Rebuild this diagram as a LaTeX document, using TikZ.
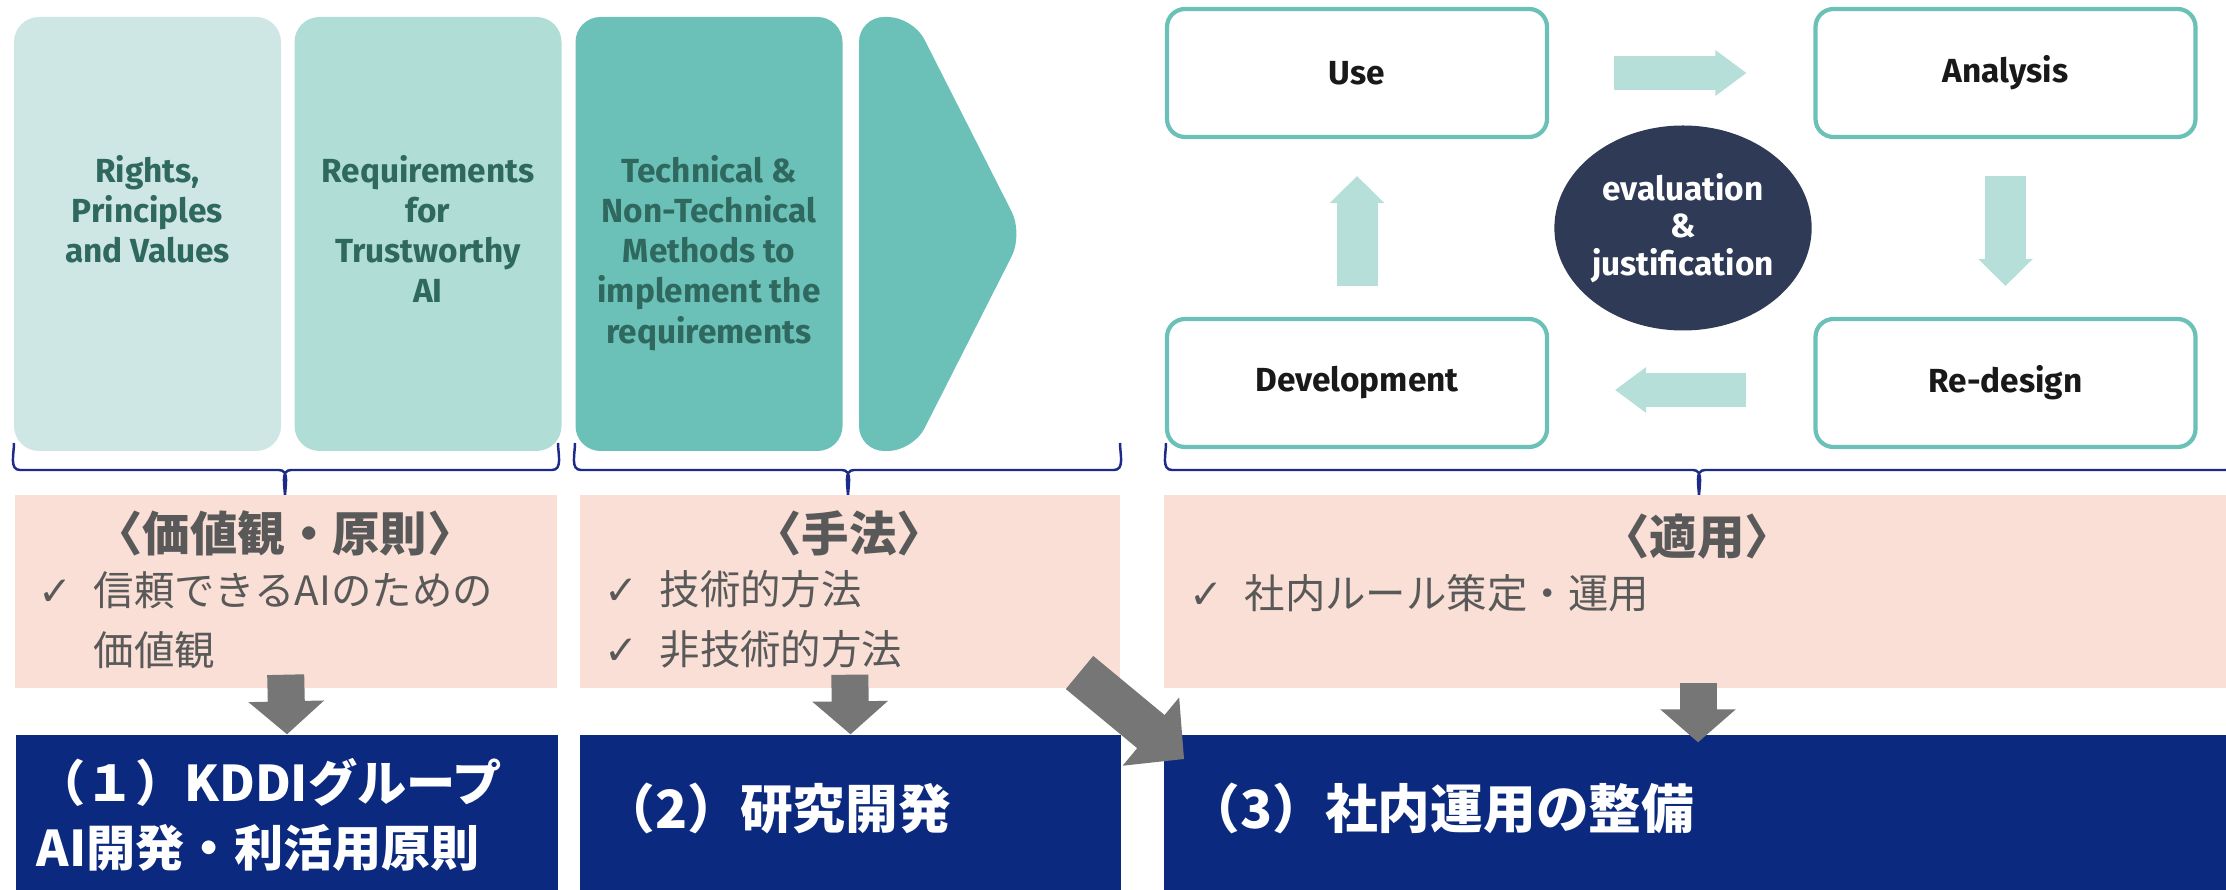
\documentclass[tikz,border=0pt]{standalone}
\usepackage{fontspec}
\setmainfont{Fira Sans}
\newfontfamily\jpfont{Noto Sans CJK JP}
\newfontfamily\checkfont{DejaVu Sans}
\usetikzlibrary{arrows.meta,shapes.geometric}

\definecolor{tealA}{RGB}{207,231,228}
\definecolor{tealB}{RGB}{176,221,214}
\definecolor{tealC}{RGB}{107,193,183}
\definecolor{tealtext}{RGB}{46,104,94}
\definecolor{tealarrow}{RGB}{182,223,217}
\definecolor{evalnavy}{RGB}{47,58,86}
\definecolor{pinkbg}{RGB}{249,223,213}
\definecolor{kddiblue}{RGB}{11,41,126}
\definecolor{arrowgray}{RGB}{118,118,118}
\definecolor{textgray}{RGB}{89,89,89}
\definecolor{braceblue}{RGB}{28,43,138}

\begin{document}
\begin{tikzpicture}[
    panel/.style={rounded corners=0.25cm, minimum width=2.67cm, minimum height=4.34cm, inner sep=0pt},
    paneltext/.style={anchor=north, align=center, inner sep=0pt, text=tealtext, font=\fontsize{9.5}{11.4}\selectfont\bfseries},
    stage/.style={draw=tealC, line width=1.2pt, rounded corners=0.18cm, fill=white, minimum width=3.8cm, minimum height=1.28cm, text=black!90, font=\fontsize{9.5}{11}\selectfont\bfseries},
    cyclearrow/.style={draw=tealarrow, line width=0.34cm, -{Triangle[length=0.31cm, width=0.45cm, line width=1pt]}},
    cyclearrowv/.style={draw=tealarrow, line width=0.41cm, -{Triangle[length=0.27cm, width=0.54cm, line width=1pt]}},
    bracket/.style={draw=braceblue, line width=0.7pt},
    pinkbox/.style={fill=pinkbg, minimum height=1.93cm, inner sep=0pt},
    heading/.style={inner sep=0pt, text=textgray, font=\jpfont\fontsize{13.5}{15}\selectfont\bfseries},
    checklist/.style={anchor=west, align=left, inner sep=0pt, text=textgray, font=\jpfont\fontsize{11.5}{17}\selectfont},
    bluebox/.style={fill=kddiblue, minimum height=1.6cm, inner sep=0pt},
    bluetext/.style={anchor=west, align=left, inner sep=0pt, text=white, font=\jpfont\fontsize{15}{18.5}\selectfont\bfseries},
    grayarrow/.style={draw=arrowgray, line width=0.37cm, -{Triangle[length=0.33cm, width=0.75cm, line width=1pt]}}
]
    \useasboundingbox (0,0) rectangle (22.26,-8.9);

    % Guidelines panels
    \node[panel, fill=tealA] (rights) at (1.475,-2.34) {};
    \node[panel, fill=tealB] (requirements) at (4.28,-2.34) {};
    \node[panel, fill=tealC] (methods) at (7.09,-2.34) {};
    \fill[tealC, rounded corners=0.25cm] (8.59,-4.51) -- (8.59,-0.17) -- (9.13,-0.17) -- (10.23,-2.34) -- (9.13,-4.51) -- cycle;

    \node[paneltext] (rightstext) at (1.475,-1.55) {Rights,\\Principles\\and Values};
    \node[paneltext] (reqtext) at (4.28,-1.55) {Requirements\\for\\Trustworthy\\AI};
    \node[paneltext] (methtext) at (7.09,-1.55) {Technical \&\\Non-Technical\\Methods to\\implement the\\requirements};

    % Life cycle
    \node[stage] (use) at (13.57,-0.73) {Use};
    \node[stage] (analysis) at (20.055,-0.73) {Analysis};
    \node[stage] (development) at (13.57,-3.83) {Development};
    \node[stage] (redesign) at (20.055,-3.83) {Re-design};
    \node[ellipse, fill=evalnavy, minimum width=2.57cm, minimum height=2.05cm, inner sep=0pt, align=center, text=white, font=\fontsize{9.5}{10.6}\selectfont\bfseries] (evaluation) at (16.83,-2.28) {evaluation\\\&\\justification};

    \draw[cyclearrow, shorten <=0.65cm, shorten >=0.67cm] (use) -- (analysis);
    \draw[cyclearrowv, shorten <=0.37cm, shorten >=0.31cm] (analysis) -- (redesign);
    \draw[cyclearrow, shorten <=0.67cm, shorten >=0.66cm] ([yshift=-0.07cm]redesign.west) -- ([yshift=-0.07cm]development.east);
    \draw[cyclearrowv, shorten <=0.31cm, shorten >=0.37cm] (development) -- (use);

    % Brackets
    \draw[bracket] (0.14,-4.43) to[out=-90,in=180] (0.20,-4.70) -- (2.79,-4.70) to[out=0,in=90] (2.85,-4.97) to[out=90,in=180] (2.91,-4.70) -- (5.52,-4.70) to[out=0,in=-90] (5.58,-4.43);
    \draw[bracket] (5.75,-4.43) to[out=-90,in=180] (5.81,-4.70) -- (8.42,-4.70) to[out=0,in=90] (8.48,-4.97) to[out=90,in=180] (8.54,-4.70) -- (11.14,-4.70) to[out=0,in=-90] (11.20,-4.43);
    \draw[bracket] (11.66,-4.43) to[out=-90,in=180] (11.72,-4.70) -- (16.93,-4.70) to[out=0,in=90] (16.99,-4.97) to[out=90,in=180] (17.05,-4.70) -- (22.26,-4.70) to[out=0,in=-90] (22.32,-4.43);

    % Summary boxes
    \node[pinkbox, minimum width=5.42cm] (pink1) at (2.86,-5.915) {};
    \node[pinkbox, minimum width=5.40cm] (pink2) at (8.50,-5.915) {};
    \node[pinkbox, minimum width=10.68cm] (pink3) at (16.98,-5.915) {};

    \node[heading] (values) at (2.85,-5.33) {〈価値観・原則〉};
    \node[heading] (methodsjp) at (8.49,-5.33) {〈手法〉};
    \node[heading] (apply) at (16.97,-5.37) {〈適用〉};

    \node[checklist] (valuelist) at (0.38,-6.20) {{\checkfont ✓}\hspace{6pt}信頼できるAIのための\\\hphantom{{\checkfont ✓}\hspace{6pt}}価値観};
    \node[checklist] (methodlist) at (6.04,-6.19) {{\checkfont ✓}\hspace{6pt}技術的方法\\{\checkfont ✓}\hspace{6pt}非技術的方法};
    \node[checklist] (applylist) at (11.89,-5.93) {{\checkfont ✓}\hspace{6pt}社内ルール策定・運用};

    % KDDI boxes
    \node[bluebox, minimum width=5.42cm] (dark1) at (2.87,-8.15) {};
    \node[bluebox, minimum width=5.41cm] (dark2) at (8.505,-8.15) {};
    \node[bluebox, minimum width=10.68cm] (dark3) at (16.98,-8.15) {};

    \node[bluetext, font=\jpfont\fontsize{14}{18.3}\selectfont\bfseries] (principles) at (0.36,-8.15) {（１）KDDIグループ\\AI開発・利活用原則};
    \node[bluetext] (research) at (6.02,-8.08) {（2）研究開発};
    \node[bluetext] (operation) at (11.87,-8.08) {（3）社内運用の整備};

    % Gray arrows
    \draw[grayarrow, shorten <=-0.14cm] (pink1.south) -- (dark1.north);
    \draw[grayarrow, shorten <=-0.14cm] (pink2.south) -- (dark2.north);
    \draw[grayarrow, shorten <=-0.06cm, shorten >=-0.08cm] (pink3.south) -- (dark3.north);
    \coordinate (diagtail) at (10.795,-6.725);
    \coordinate (diagtip) at (11.84,-7.59);
    \draw[draw=arrowgray, line width=0.43cm, -{Triangle[length=0.43cm, width=0.88cm, line width=1pt]}] (diagtail) -- (diagtip);
\end{tikzpicture}
\end{document}
